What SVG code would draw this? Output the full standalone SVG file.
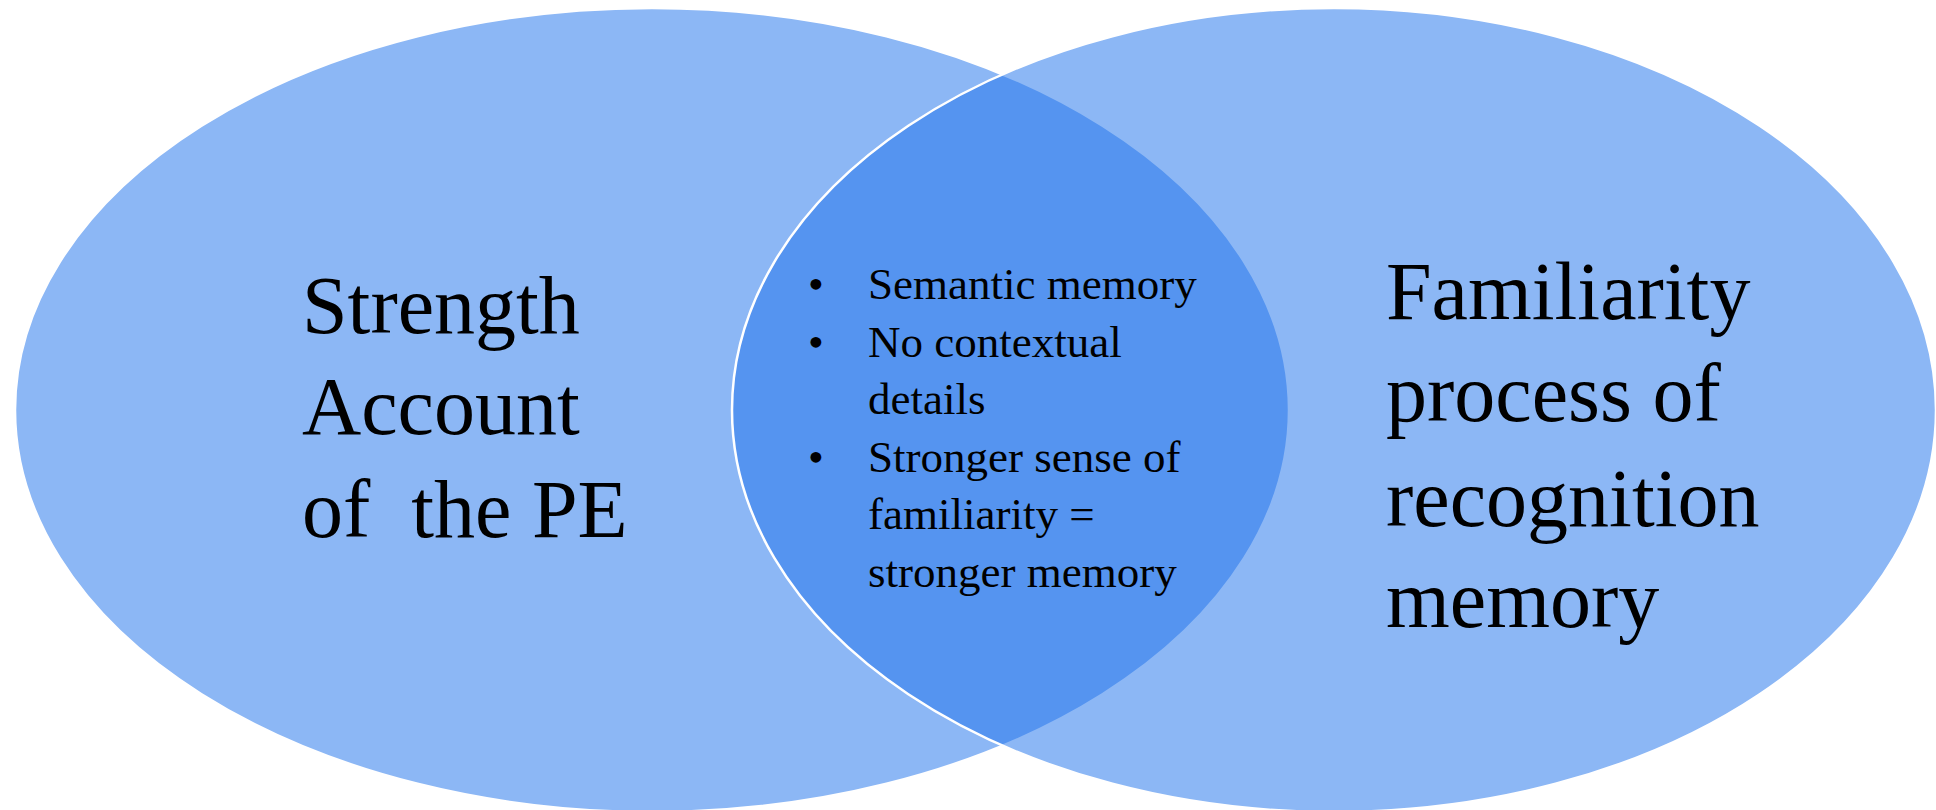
<svg xmlns="http://www.w3.org/2000/svg" width="1936" height="810" viewBox="0 0 1936 810">
<style>
.set{fill:rgb(35,117,236);fill-opacity:0.52;stroke:#ffffff;stroke-width:2.5}
.big{font-family:"Liberation Serif","Times New Roman",serif;font-size:82px;fill:#000;white-space:pre}
.mid{font-family:"Liberation Serif","Times New Roman",serif;font-size:45px;fill:#000}
</style>
<rect width="1936" height="810" fill="#ffffff"/>
<g id="set-left">
<ellipse class="set" cx="652" cy="410" rx="637" ry="402"/>
</g>
<g id="set-right">
<ellipse class="set" cx="1334" cy="410" rx="602" ry="402"/>
</g>
<g id="connectors"></g>
<g id="label-left">
<text class="big" x="302" y="333">Strength</text>
<text class="big" x="302" y="434">Account</text>
<text class="big" x="302" y="537">of  the PE</text>
</g>
<g id="label-right">
<text class="big" x="1386" y="319">Familiarity</text>
<text class="big" x="1386" y="421">process of</text>
<text class="big" x="1386" y="526">recognition</text>
<text class="big" x="1386" y="627">memory</text>
</g>
<g id="label-overlap">
<text class="mid" x="816" y="299" text-anchor="middle">•</text>
<text class="mid" x="816" y="357" text-anchor="middle">•</text>
<text class="mid" x="816" y="472" text-anchor="middle">•</text>
<text class="mid" x="868" y="299">Semantic memory</text>
<text class="mid" x="868" y="357">No contextual</text>
<text class="mid" x="868" y="414">details</text>
<text class="mid" x="868" y="472">Stronger sense of</text>
<text class="mid" x="868" y="529">familiarity =</text>
<text class="mid" x="868" y="587">stronger memory</text>
</g>
</svg>
